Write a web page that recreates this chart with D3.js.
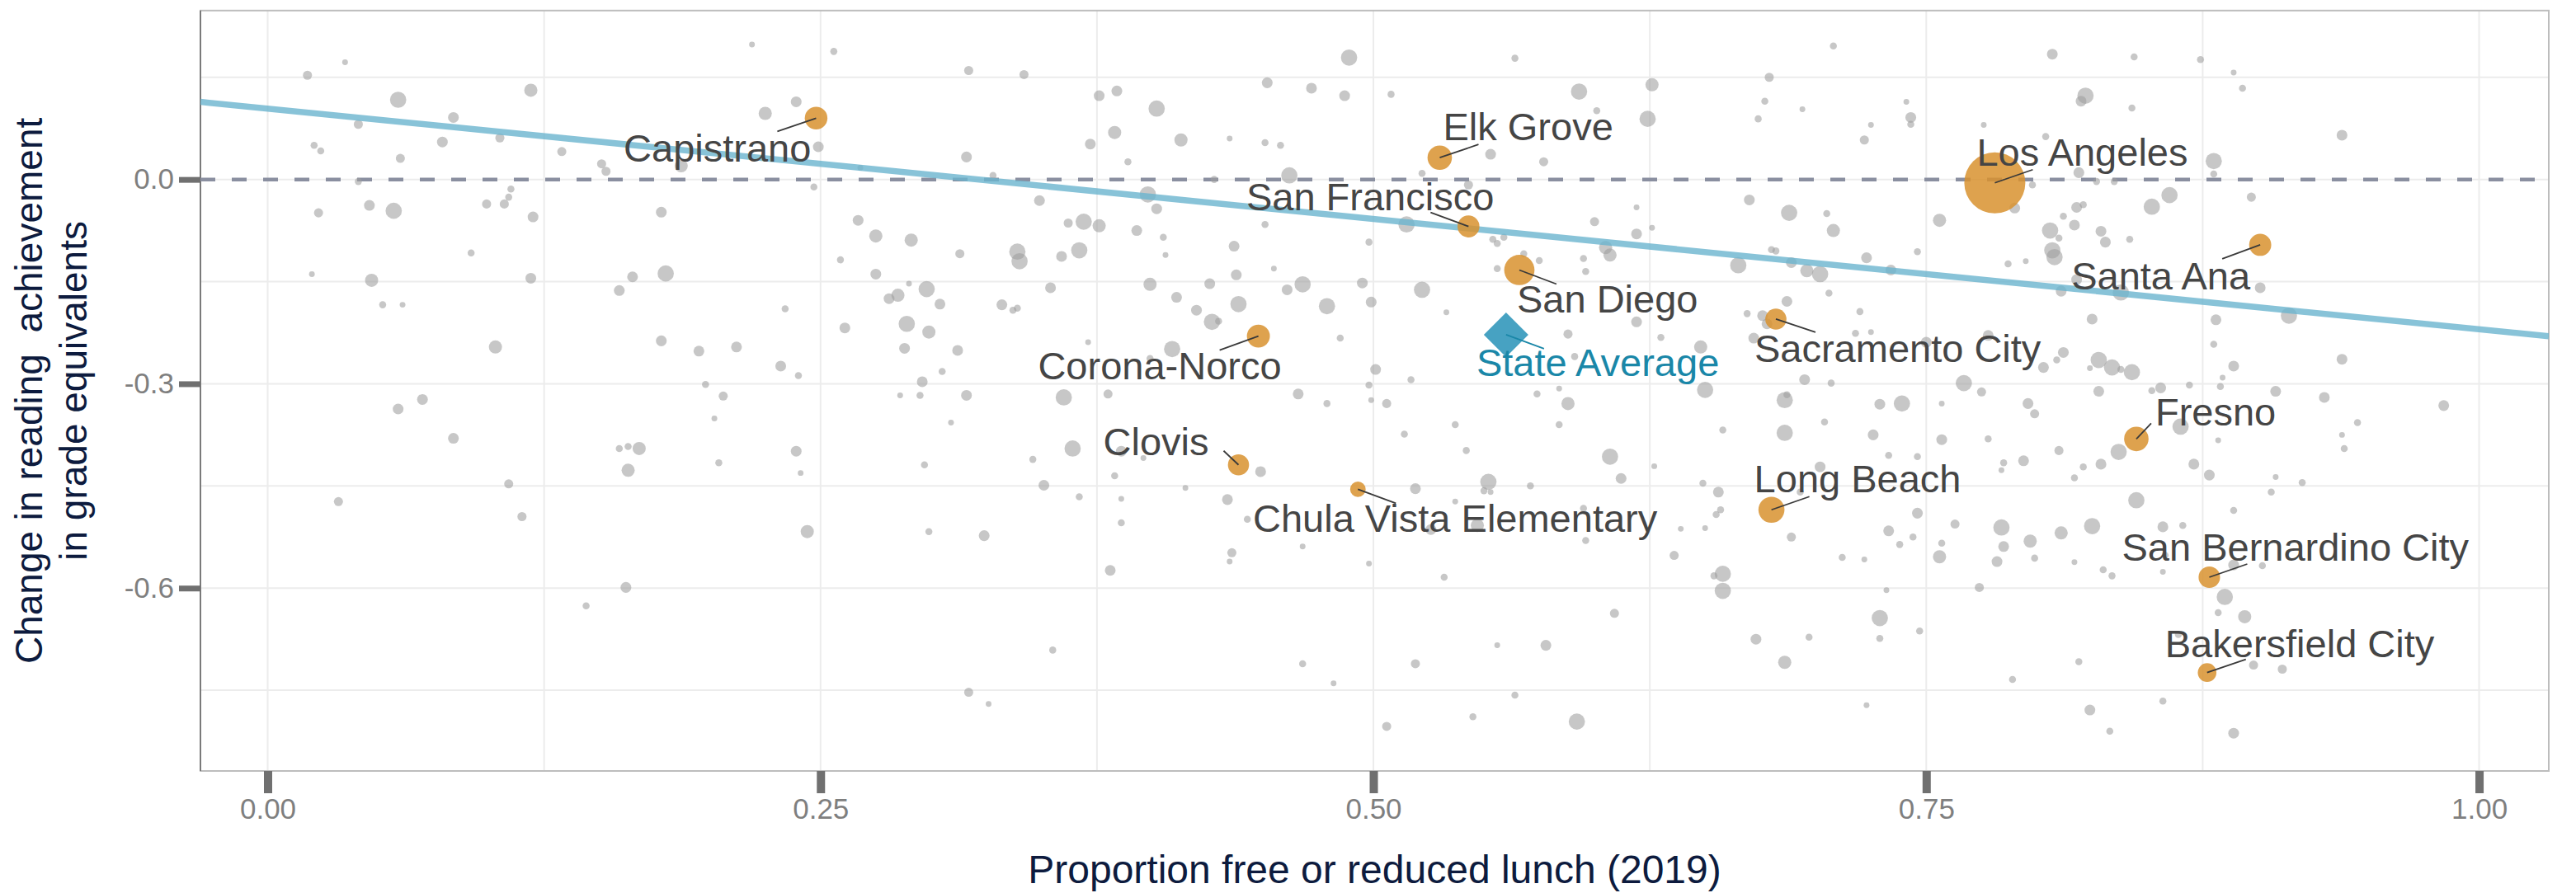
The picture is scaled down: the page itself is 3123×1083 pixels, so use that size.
<!DOCTYPE html>
<html>
<head>
<meta charset="utf-8">
<script src="https://cdn.jsdelivr.net/npm/d3@7"></script>
<style>
  body { margin: 0; background: #fff; }
  text { font-family: "Liberation Sans", Arial, sans-serif; }
</style>
</head>
<body>
<svg id="chart" width="3123" height="1083"></svg>
<script>
// axis ticks
const xTicks = [0, 0.25, 0.5, 0.75, 1];
const yTicks = [0, -0.3, -0.6];

// fitted line (change = intercept + slope * frl)
const fitIntercept = 0.104;
const fitSlope = -0.324;

// state average
const stateFrl = 0.56;
const stateChange = -0.228;

// highlighted districts: name, frl share, change, enrollment (thousands)
const hlNames = ["Capistrano", "Elk Grove", "San Francisco", "San Diego", "Sacramento City",
  "Los Angeles", "Santa Ana", "Fresno", "San Bernardino City", "Bakersfield City",
  "Long Beach", "Chula Vista Elementary", "Clovis", "Corona-Norco"];
const hlFrl = [0.248, 0.530, 0.543, 0.566, 0.682, 0.781, 0.901, 0.845, 0.878, 0.877, 0.680, 0.493, 0.439, 0.448];
const hlChange = [0.090, 0.032, -0.069, -0.133, -0.205, -0.005, -0.096, -0.381, -0.584, -0.724, -0.485, -0.455, -0.419, -0.230];
const hlSize = [62, 72, 58, 111, 54, 450, 59, 72, 56, 42, 82, 29, 54, 64];

// all other districts: [frl share, change, enrollment (thousands)]
const districts = [
  [0.018,0.153,10],[0.035,0.172,4],[0.059,0.117,32],[0.041,0.081,10],[0.084,0.091,14],[0.119,0.131,21],
  [0.105,0.061,10],[0.079,0.055,14],[0.021,0.050,6],[0.024,0.042,6],[0.060,0.031,10],[0.133,0.041,10],
  [0.151,0.023,10],[0.153,0.012,10],[0.041,-0.003,6],[0.110,-0.014,6],[0.109,-0.026,6],[0.107,-0.036,10],
  [0.099,-0.036,10],[0.046,-0.038,14],[0.057,-0.046,32],[0.023,-0.049,10],[0.120,-0.055,14],[0.092,-0.108,6],
  [0.020,-0.139,4],[0.047,-0.148,21],[0.119,-0.145,14],[0.165,-0.143,14],[0.159,-0.163,14],[0.052,-0.184,6],
  [0.061,-0.184,4],[0.103,-0.246,21],[0.070,-0.323,14],[0.059,-0.337,14],[0.084,-0.380,14],[0.159,-0.395,6],
  [0.163,-0.392,6],[0.168,-0.395,21],[0.163,-0.427,21],[0.109,-0.447,10],[0.032,-0.473,10],[0.115,-0.495,10],
  [0.162,-0.599,14],[0.144,-0.626,6],
  [0.219,0.198,4],[0.256,0.188,6],[0.317,0.160,10],[0.342,0.154,10],[0.452,0.142,14],[0.472,0.134,14],
  [0.239,0.114,14],[0.225,0.097,21],[0.376,0.123,14],[0.384,0.130,14],[0.402,0.104,32],[0.383,0.069,21],
  [0.372,0.052,14],[0.413,0.058,21],[0.435,0.060,4],[0.451,0.054,6],[0.458,0.050,6],[0.249,0.048,14],
  [0.187,0.020,21],[0.316,0.033,14],[0.389,0.026,6],[0.268,0.017,4],[0.328,0.006,6],[0.462,0.006,32],
  [0.428,0.000,6],[0.247,-0.011,6],[0.349,-0.031,14],[0.398,-0.022,32],[0.402,-0.043,14],[0.178,-0.048,14],
  [0.267,-0.060,14],[0.275,-0.083,21],[0.291,-0.089,21],[0.362,-0.064,10],[0.369,-0.062,32],[0.376,-0.068,21],
  [0.393,-0.075,14],[0.405,-0.085,6],[0.451,-0.066,6],[0.406,-0.111,4],[0.437,-0.098,14],[0.259,-0.118,6],
  [0.313,-0.109,10],[0.339,-0.106,32],[0.340,-0.120,32],[0.359,-0.113,14],[0.367,-0.104,32],[0.180,-0.138,32],
  [0.275,-0.139,14],[0.290,-0.153,4],[0.298,-0.161,32],[0.285,-0.170,21],[0.281,-0.175,14],[0.304,-0.183,14],
  [0.354,-0.159,14],[0.399,-0.154,21],[0.426,-0.153,14],[0.438,-0.140,14],[0.455,-0.131,4],[0.461,-0.162,14],
  [0.468,-0.154,32],[0.332,-0.184,14],[0.337,-0.192,6],[0.339,-0.189,6],[0.411,-0.173,14],[0.420,-0.192,14],
  [0.439,-0.183,32],[0.427,-0.209,32],[0.430,-0.208,6],[0.234,-0.190,6],[0.261,-0.218,14],[0.289,-0.212,32],
  [0.299,-0.224,21],[0.178,-0.237,14],[0.195,-0.252,14],[0.212,-0.246,14],[0.232,-0.274,14],[0.240,-0.288,6],
  [0.288,-0.248,14],[0.312,-0.251,14],[0.371,-0.239,4],[0.409,-0.249,32],[0.399,-0.263,6],[0.198,-0.301,6],
  [0.206,-0.318,10],[0.202,-0.351,4],[0.296,-0.297,14],[0.305,-0.282,6],[0.286,-0.317,4],[0.295,-0.317,6],
  [0.316,-0.317,14],[0.360,-0.320,32],[0.380,-0.315,10],[0.466,-0.315,14],[0.309,-0.357,4],
  [0.364,-0.395,32],[0.386,-0.399,14],[0.396,-0.409,4],[0.449,-0.429,14],[0.204,-0.416,6],[0.239,-0.399,14],
  [0.241,-0.431,4],[0.297,-0.419,6],[0.346,-0.411,6],[0.351,-0.449,14],[0.367,-0.466,6],[0.383,-0.435,6],
  [0.386,-0.469,4],[0.386,-0.504,6],[0.415,-0.453,4],[0.434,-0.470,14],[0.443,-0.499,6],[0.436,-0.548,10],
  [0.435,-0.561,4],[0.468,-0.539,4],[0.244,-0.517,21],[0.299,-0.517,6],[0.324,-0.523,14],[0.381,-0.574,14],
  [0.355,-0.691,6],[0.468,-0.711,6],[0.317,-0.753,10],[0.326,-0.770,4],
  [0.489,0.179,32],[0.564,0.178,6],[0.708,0.196,6],[0.487,0.123,14],[0.508,0.125,6],[0.593,0.129,32],
  [0.626,0.139,21],[0.679,0.150,10],[0.624,0.089,32],[0.601,0.101,6],[0.677,0.115,6],[0.694,0.103,4],
  [0.674,0.089,6],[0.741,0.114,4],[0.725,0.080,4],[0.743,0.091,14],[0.743,0.081,6],[0.722,0.058,10],
  [0.553,0.037,14],[0.577,0.026,10],[0.522,0.009,6],[0.543,-0.008,10],[0.670,-0.030,14],[0.688,-0.049,32],
  [0.705,-0.050,6],[0.708,-0.075,21],[0.756,-0.060,21],[0.619,-0.041,4],[0.600,-0.062,10],[0.626,-0.071,4],
  [0.619,-0.080,14],[0.515,-0.066,32],[0.498,-0.092,6],[0.554,-0.088,6],[0.556,-0.094,6],[0.559,-0.085,6],
  [0.605,-0.100,21],[0.607,-0.111,21],[0.595,-0.116,6],[0.596,-0.135,6],[0.568,-0.109,6],[0.575,-0.119,6],
  [0.556,-0.131,6],[0.665,-0.126,32],[0.680,-0.103,6],[0.682,-0.105,6],[0.689,-0.122,14],[0.696,-0.134,21],
  [0.702,-0.139,32],[0.723,-0.115,14],[0.734,-0.133,14],[0.746,-0.106,6],[0.495,-0.152,14],[0.499,-0.180,14],
  [0.522,-0.162,32],[0.479,-0.186,32],[0.533,-0.195,4],[0.485,-0.233,6],[0.588,-0.227,10],[0.619,-0.209,14],
  [0.630,-0.232,6],[0.648,-0.246,21],[0.687,-0.179,14],[0.706,-0.167,6],[0.720,-0.194,6],[0.669,-0.197,6],
  [0.676,-0.200,14],[0.718,-0.226,6],[0.725,-0.224,4],[0.750,-0.239,14],[0.672,-0.233,14],[0.678,-0.212,14],
  [0.501,-0.279,14],[0.498,-0.302,6],[0.499,-0.324,4],[0.506,-0.329,10],[0.517,-0.294,6],[0.479,-0.329,6],
  [0.574,-0.315,6],[0.584,-0.307,4],[0.588,-0.329,21],[0.591,-0.260,6],[0.650,-0.309,32],[0.695,-0.294,14],
  [0.707,-0.299,6],[0.687,-0.316,6],[0.686,-0.324,32],[0.729,-0.330,14],[0.739,-0.329,32],[0.757,-0.329,4],
  [0.767,-0.299,32],[0.537,-0.360,6],[0.514,-0.374,6],[0.584,-0.360,6],[0.658,-0.368,6],[0.686,-0.372,32],
  [0.704,-0.356,6],[0.726,-0.375,14],[0.757,-0.382,14],
  [0.542,-0.398,6],[0.607,-0.407,32],[0.612,-0.439,14],[0.627,-0.421,4],[0.519,-0.454,14],[0.552,-0.444,32],
  [0.550,-0.457,6],[0.553,-0.459,4],[0.571,-0.450,6],[0.537,-0.473,4],[0.547,-0.508,21],[0.526,-0.514,14],
  [0.595,-0.483,6],[0.596,-0.530,6],[0.649,-0.446,6],[0.656,-0.459,14],[0.657,-0.485,6],[0.655,-0.492,6],
  [0.650,-0.512,4],[0.639,-0.513,4],[0.636,-0.552,10],[0.498,-0.564,4],[0.532,-0.584,6],[0.658,-0.579,32],
  [0.654,-0.582,6],[0.658,-0.604,32],[0.609,-0.637,10],[0.556,-0.684,4],[0.578,-0.684,14],[0.519,-0.711,10],
  [0.482,-0.740,4],[0.564,-0.757,6],[0.545,-0.789,6],[0.506,-0.803,10],[0.592,-0.796,32],[0.673,-0.675,14],
  [0.697,-0.672,6],[0.686,-0.709,21],[0.723,-0.772,4],[0.729,-0.644,32],[0.729,-0.674,6],[0.747,-0.663,6],
  [0.732,-0.603,4],[0.689,-0.525,10],[0.712,-0.555,6],[0.722,-0.558,4],[0.733,-0.516,14],[0.738,-0.536,6],
  [0.744,-0.525,6],[0.746,-0.490,14],[0.757,-0.534,6],[0.756,-0.554,21],[0.763,-0.506,10],[0.746,-0.407,6],
  [0.733,-0.405,6],[0.702,-0.422,14],[0.693,-0.459,6],[0.774,-0.599,10],
  [0.807,0.184,14],[0.844,0.180,6],[0.874,0.176,6],[0.889,0.157,4],[0.893,0.134,6],[0.822,0.123,32],
  [0.820,0.115,14],[0.843,0.105,6],[0.776,0.080,4],[0.804,0.063,6],[0.938,0.065,14],[0.880,0.027,32],
  [0.880,0.008,6],[0.819,0.010,14],[0.827,-0.003,6],[0.835,-0.003,6],[0.798,-0.008,6],[0.790,-0.042,14],
  [0.860,-0.023,32],[0.852,-0.040,32],[0.897,-0.026,10],[0.818,-0.041,14],[0.821,-0.037,6],[0.812,-0.054,6],
  [0.817,-0.067,14],[0.806,-0.075,32],[0.810,-0.086,6],[0.829,-0.076,14],[0.831,-0.092,14],[0.842,-0.088,6],
  [0.807,-0.104,32],[0.808,-0.114,32],[0.787,-0.124,6],[0.795,-0.120,4],[0.818,-0.147,14],[0.838,-0.166,32],
  [0.811,-0.164,14],[0.901,-0.159,14],[0.914,-0.200,32],[0.825,-0.205,14],[0.881,-0.206,14],[0.880,-0.242,6],
  [0.778,-0.229,14],[0.812,-0.254,14],[0.809,-0.265,6],[0.803,-0.276,14],[0.828,-0.265,32],[0.834,-0.276,32],
  [0.824,-0.277,4],[0.838,-0.279,6],[0.843,-0.283,32],[0.889,-0.274,14],[0.938,-0.264,14],[0.884,-0.291,4],
  [0.828,-0.311,14],[0.852,-0.310,6],[0.856,-0.306,14],[0.869,-0.302,6],[0.883,-0.304,6],[0.908,-0.311,14],
  [0.930,-0.320,14],[0.984,-0.332,14],[0.796,-0.329,14],[0.799,-0.344,10],[0.775,-0.312,10],[0.865,-0.363,32],
  [0.945,-0.357,6],[0.938,-0.375,4],[0.882,-0.383,4],[0.778,-0.381,6],
  [0.939,-0.395,6],[0.810,-0.398,10],[0.837,-0.400,32],[0.794,-0.413,14],[0.785,-0.416,6],[0.784,-0.427,4],
  [0.821,-0.422,6],[0.829,-0.418,14],[0.817,-0.438,6],[0.871,-0.418,14],[0.878,-0.434,14],[0.908,-0.437,4],
  [0.920,-0.445,6],[0.906,-0.459,6],[0.845,-0.471,32],[0.889,-0.486,6],[0.784,-0.511,32],[0.825,-0.509,32],
  [0.811,-0.519,21],[0.797,-0.531,21],[0.785,-0.539,14],[0.799,-0.556,6],[0.782,-0.561,14],[0.817,-0.562,4],
  [0.830,-0.573,6],[0.834,-0.582,6],[0.857,-0.576,4],[0.857,-0.510,14],[0.866,-0.508,6],[0.858,-0.552,6],
  [0.889,-0.566,14],[0.902,-0.567,6],[0.885,-0.613,32],[0.882,-0.636,6],[0.894,-0.642,21],[0.864,-0.668,6],
  [0.898,-0.713,10],[0.911,-0.719,10],[0.819,-0.708,6],[0.789,-0.734,6],[0.857,-0.766,6],[0.824,-0.779,14],
  [0.833,-0.810,6],[0.889,-0.813,14]
];

// label placement (pixels from the point): text dx, dy, anchor, leader end dx, dy
const labelLayout = {
  "Capistrano": [-6, 53, "end", -47, 16],
  "Elk Grove": [4, -21, "start", 47, -16],
  "San Francisco": [31, -20, "end", -46, -17],
  "San Diego": [-3, 52, "start", 45, 17],
  "Sacramento City": [-26, 52, "start", 48, 16],
  "Los Angeles": [-22, -21, "start", 46, -16],
  "Santa Ana": [-12, 54, "end", -46, 17],
  "Fresno": [23, -16, "start", 18, -19],
  "San Bernardino City": [-106, -20, "start", 46, -16],
  "Bakersfield City": [-51, -19, "start", 47, -16],
  "Long Beach": [-21, -21, "start", 46, -16],
  "Chula Vista Elementary": [363, 52, "end", 46, 17],
  "Clovis": [-36, -12, "end", -18, -17],
  "Corona-Norco": [28, 52, "end", -47, 17]
};

const width = 3123, height = 1083;
const margin = {top: 12.8, right: 33, bottom: 148, left: 243};

const svg = d3.select("#chart");

const x = d3.scaleLinear()
    .domain([-0.0304, 1.0315])
    .range([margin.left, width - margin.right]);

const y = d3.scaleLinear()
    .domain([-0.8685, 0.248])
    .range([height - margin.bottom, margin.top]);

const r = d3.scaleSqrt().domain([0, 450]).range([0, 37]);

const fmt = d3.formatLocale({decimal: ".", thousands: ",", grouping: [3], currency: ["", ""], minus: "-"});

svg.append("defs").append("clipPath")
    .attr("id", "panel")
  .append("rect")
    .attr("x", margin.left)
    .attr("y", margin.top)
    .attr("width", width - margin.left - margin.right)
    .attr("height", height - margin.top - margin.bottom);

// grid lines
let grid = svg.append("g").attr("class", "grid");

grid.selectAll(".vgrid")
    .data(d3.range(0, 1.01, 0.125))
  .enter().append("line")
    .attr("x1", d => x(d)).attr("x2", d => x(d))
    .attr("y1", margin.top).attr("y2", height - margin.bottom)
    .attr("stroke", "#ececec").attr("stroke-width", 2);

grid.selectAll(".hgrid")
    .data(d3.range(-0.75, 0.16, 0.15))
  .enter().append("line")
    .attr("x1", margin.left).attr("x2", width - margin.right)
    .attr("y1", d => y(d)).attr("y2", d => y(d))
    .attr("stroke", "#ececec").attr("stroke-width", 2);

// panel border
svg.append("rect")
    .attr("x", margin.left)
    .attr("y", margin.top)
    .attr("width", width - margin.left - margin.right)
    .attr("height", height - margin.top - margin.bottom)
    .attr("fill", "none")
    .attr("stroke", "#bdbdbd")
    .attr("stroke-width", 2);

svg.append("line")
    .attr("x1", margin.left).attr("x2", margin.left)
    .attr("y1", margin.top).attr("y2", height - margin.bottom)
    .attr("stroke", "#7a7a7a").attr("stroke-width", 2);

let plot = svg.append("g").attr("clip-path", "url(#panel)");

// zero reference
plot.append("line")
    .attr("x1", margin.left).attr("x2", width - margin.right)
    .attr("y1", y(0)).attr("y2", y(0))
    .attr("stroke", "#8a8fa0")
    .attr("stroke-width", 4.5)
    .attr("stroke-dasharray", "18 20");

// other districts
plot.append("g")
  .selectAll("circle")
    .data(districts)
  .enter().append("circle")
    .attr("cx", d => x(d[0]))
    .attr("cy", d => y(d[1]))
    .attr("r", d => r(d[2]))
    .attr("fill", "#9e9e9e")
    .attr("fill-opacity", 0.58);

// fitted line
plot.append("path")
    .datum(x.domain())
    .attr("d", d3.line().x(d => x(d)).y(d => y(fitIntercept + fitSlope * d)))
    .attr("fill", "none")
    .attr("stroke", "#6ab4ce")
    .attr("stroke-opacity", 0.8)
    .attr("stroke-width", 7.5);

// highlighted districts
let hl = hlNames.map((name, i) => ({name, frl: hlFrl[i], change: hlChange[i], size: hlSize[i]}));

plot.append("g")
  .selectAll("circle")
    .data(hl)
  .enter().append("circle")
    .attr("cx", d => x(d.frl))
    .attr("cy", d => y(d.change))
    .attr("r", d => r(d.size))
    .attr("fill", "#d8922f")
    .attr("fill-opacity", 0.85);

// state average diamond
plot.append("path")
    .attr("d", d3.symbol().type(d3.symbolSquare).size(1460))
    .attr("transform", `translate(${x(stateFrl)},${y(stateChange)}) rotate(45)`)
    .attr("fill", "#3d9dbf")
    .attr("fill-opacity", 0.95);

// leaders and labels
let labels = svg.append("g");

hl.forEach(d => {
  let [tdx, tdy, anchor, cdx, cdy] = labelLayout[d.name];
  let px = x(d.frl), py = y(d.change);
  labels.append("line")
      .attr("x1", px).attr("y1", py)
      .attr("x2", px + cdx).attr("y2", py + cdy)
      .attr("stroke", "#3a3a3a")
      .attr("stroke-width", 1.8);
  labels.append("text")
      .attr("x", px + tdx).attr("y", py + tdy)
      .attr("text-anchor", anchor)
      .attr("font-size", 47)
      .attr("fill", "#454545")
      .text(d.name);
});

let sx = x(stateFrl), sy = y(stateChange);
labels.append("line")
    .attr("x1", sx).attr("y1", sy)
    .attr("x2", sx + 46).attr("y2", sy + 17)
    .attr("stroke", "#1a87a8")
    .attr("stroke-width", 1.8);
labels.append("text")
    .attr("x", sx - 36).attr("y", sy + 50)
    .attr("font-size", 47)
    .attr("fill", "#1a87a8")
    .text("State Average");

// x axis
let xAxis = svg.append("g")
    .attr("transform", `translate(0,${height - margin.bottom})`)
    .call(d3.axisBottom(x).tickValues(xTicks).tickSize(27).tickPadding(6).tickFormat(fmt.format(".2f")));

xAxis.select(".domain").remove();
xAxis.selectAll(".tick line").attr("stroke", "#707070").attr("stroke-width", 10);
xAxis.selectAll(".tick text")
    .attr("fill", "#7f7f7f")
    .attr("font-size", 35)
    .attr("font-family", "Liberation Sans, Arial, sans-serif");

// y axis
let yAxis = svg.append("g")
    .attr("transform", `translate(${margin.left},0)`)
    .call(d3.axisLeft(y).tickValues(yTicks).tickSize(26).tickPadding(6).tickFormat(fmt.format(".1f")));

yAxis.select(".domain").remove();
yAxis.selectAll(".tick line").attr("stroke", "#707070").attr("stroke-width", 7);
yAxis.selectAll(".tick text")
    .attr("fill", "#7f7f7f")
    .attr("font-size", 35)
    .attr("font-family", "Liberation Sans, Arial, sans-serif");

// axis titles
svg.append("text")
    .attr("x", (margin.left + width - margin.right) / 2)
    .attr("y", 1071)
    .attr("text-anchor", "middle")
    .attr("font-size", 48)
    .attr("fill", "#0d1b3e")
    .text("Proportion free or reduced lunch (2019)");

let yMid = (margin.top + height - margin.bottom) / 2;

svg.append("text")
    .attr("transform", `translate(51,${yMid}) rotate(-90)`)
    .attr("text-anchor", "middle")
    .attr("font-size", 46)
    .attr("fill", "#0d1b3e")
    .style("white-space", "pre")
    .text("Change in reading  achievement");

svg.append("text")
    .attr("transform", `translate(105,${yMid}) rotate(-90)`)
    .attr("text-anchor", "middle")
    .attr("font-size", 46)
    .attr("fill", "#0d1b3e")
    .text("in grade equivalents");
</script>
</body>
</html>
